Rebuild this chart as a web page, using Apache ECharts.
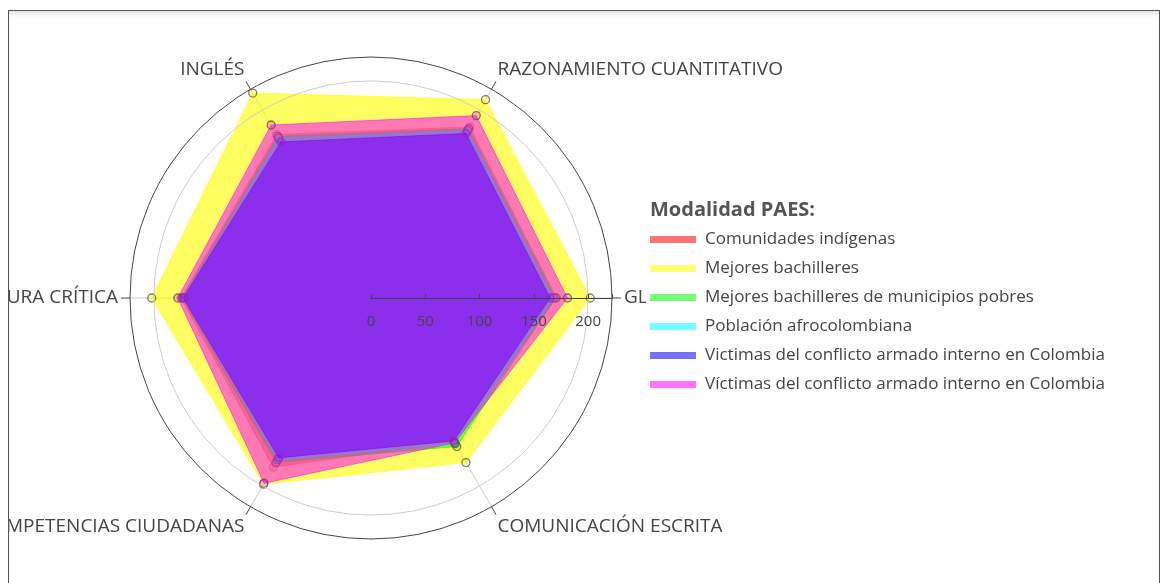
<!DOCTYPE html>
<html>
<head>
<meta charset="utf-8">
<script src="https://cdn.jsdelivr.net/npm/echarts@6/dist/echarts.min.js"></script>
<style>
  html, body { margin: 0; padding: 0; background: #fff; }
  #frame { position: absolute; left: 8px; top: 10px; width: 1150px; height: 600px; overflow: hidden;
           border: 1px solid #555; box-shadow: inset 0 6px 6px -4px rgba(0,0,0,0.15); }
  #chart { position: absolute; left: -9px; top: -11px; width: 1166px; height: 583px; }
</style>
</head>
<body>
<div id="frame"><div id="chart"></div></div>
<script>
var categories = ['GLOBAL', 'RAZONAMIENTO CUANTITATIVO', 'INGLÉS', 'LECTURA CRÍTICA', 'COMPETENCIAS CIUDADANAS', 'COMUNICACIÓN ESCRITA'];
var radialTicks = [0, 50, 100, 150, 200];

var comunidades = [171, 182, 174, 175, 180, 153];
var mejores = [202, 211, 218, 202, 198, 175];
var municipios = [170, 180, 172, 174, 175, 158];
var afro = [168, 178, 170, 172, 172, 155];
var victimas1 = [165, 175, 166, 173, 170, 152];
var victimas2 = [181, 194, 184, 178, 197, 154];

var groups = [
    {name: 'Comunidades indígenas', values: comunidades, color: '255,0,0', alpha: 0.6},
    {name: 'Mejores bachilleres', values: mejores, color: '255,255,0', alpha: 0.62},
    {name: 'Mejores bachilleres de municipios pobres', values: municipios, color: '0,255,0', alpha: 0.6},
    {name: 'Población afrocolombiana', values: afro, color: '0,255,255', alpha: 0.6},
    {name: 'Victimas del conflicto armado interno en Colombia', values: victimas1, color: '0,0,255', alpha: 0.6},
    {name: 'Víctimas del conflicto armado interno en Colombia', values: victimas2, color: '255,0,255', alpha: 0.52}
];

var RMAX = 222;
var CENTER = [371, 298];
var RADIUS = 241;
var font = '"Open Sans", sans-serif';

function rgba(c, a){ return 'rgba(' + c + ',' + a + ')'; }

var series = groups.map(function(g, i){
    return {
        type: 'radar',
        z: 2 + i,
        symbol: 'circle',
        symbolSize: 8,
        data: [{
            name: g.name,
            value: g.values,
            itemStyle: {color: rgba(g.color, 0.25), borderColor: 'rgba(80,80,80,0.75)', borderWidth: 1.3},
            lineStyle: {color: rgba(g.color, g.alpha), width: 1},
            areaStyle: {color: rgba(g.color, g.alpha), opacity: 1}
        }]
    };
});

var chart = echarts.init(document.getElementById('chart'));
chart.setOption({
    animation: false,
    textStyle: {fontFamily: font},
    title: {
        text: 'Modalidad PAES:',
        left: 645, top: 195,
        textStyle: {fontSize: 20, fontWeight: 'bold', color: '#555', fontFamily: font}
    },
    legend: {
        orient: 'vertical',
        left: 646, top: 229,
        itemGap: 12,
        itemWidth: 46, itemHeight: 7,
        icon: 'rect',
        backgroundColor: '#fff',
        padding: [2, 4, 2, 4],
        textStyle: {fontSize: 17, color: '#444', fontFamily: font, padding: [0, 0, 0, 4]},
        data: groups.map(function(g){
            return {name: g.name, itemStyle: {color: rgba(g.color, 0.55), borderWidth: 0}};
        })
    },
    polar: {center: CENTER, radius: RADIUS},
    angleAxis: {
        type: 'value', min: 0, max: 360, interval: 60,
        startAngle: 0, clockwise: false,
        axisLine: {lineStyle: {color: '#444', width: 1}},
        axisTick: {show: true, inside: false, length: 9, lineStyle: {color: '#444'}},
        axisLabel: {
            margin: 12, fontSize: 19, color: '#444', fontFamily: font,
            formatter: function(v){ return v === 360 ? '' : categories[v / 60]; }
        },
        splitLine: {show: true, lineStyle: {color: '#ccc', width: 1}}
    },
    radiusAxis: {
        min: 0, max: RMAX, interval: 50,
        z: 10,
        axisLine: {lineStyle: {color: '#444', width: 1}},
        axisTick: {show: true, length: 4, lineStyle: {color: '#444'}},
        axisLabel: {
            fontSize: 15, color: '#444', fontFamily: font,
            margin: -16, verticalAlign: 'top',
            formatter: function(v){ return radialTicks.indexOf(v) >= 0 ? String(v) : ''; }
        },
        splitLine: {show: true, lineStyle: {color: ['transparent', 'transparent', 'transparent', 'transparent', '#ccc', 'transparent']}}
    },
    radar: {
        center: CENTER, radius: RADIUS, startAngle: 0, shape: 'circle',
        indicator: categories.map(function(c){ return {name: c, max: RMAX, min: 0}; }),
        axisName: {show: false},
        axisLine: {show: false},
        splitLine: {show: false},
        splitArea: {show: false}
    },
    series: series
});
</script>
</body>
</html>
